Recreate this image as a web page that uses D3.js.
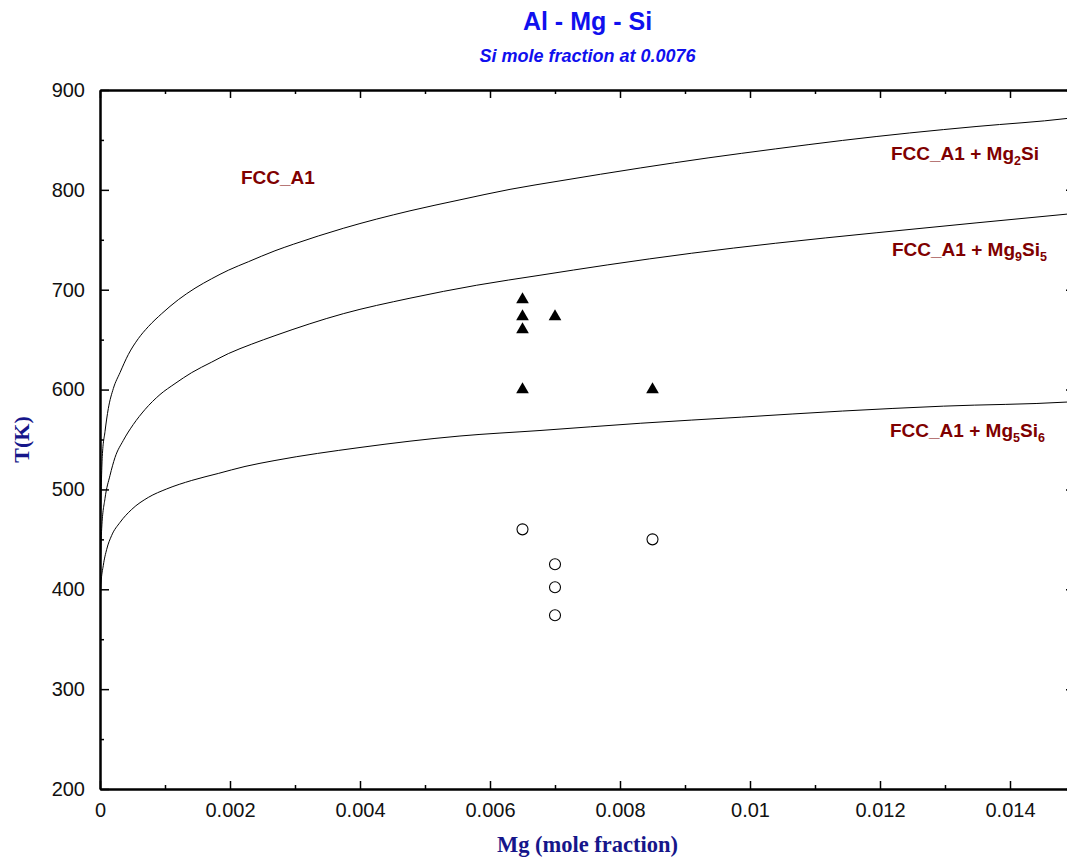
<!DOCTYPE html>
<html>
<head>
<meta charset="utf-8">
<script src="https://cdn.jsdelivr.net/npm/d3@7"></script>
<style>
	body { margin: 0; background: #fff; }
	svg { display: block; }
</style>
</head>
<body>
<div id="chart"></div>
<script>
// Phase boundaries: Mg mole fraction vs T(K)
const mg2SiX = [0.000008, 0.000035, 0.000077, 0.000128, 0.000205, 0.000308, 0.000435, 0.000589, 0.000743, 0.000949, 0.001205, 0.001462, 0.001718, 0.001974, 0.002282, 0.002692, 0.002974, 0.003743, 0.004769, 0.005538, 0.006308, 0.007077, 0.00832, 0.009355, 0.01039, 0.011423, 0.012457, 0.013492, 0.014877, 0.015];
const mg2SiT = [470, 533, 558, 581, 601, 617, 635, 651, 663, 676, 690, 701.5, 711, 719.5, 728, 739, 745.5, 761.5, 779, 790, 800.5, 809, 822, 832, 841, 849.5, 857, 863.5, 871.5, 872.5];

const mg9Si5X = [0.000006, 0.000026, 0.000077, 0.000154, 0.000231, 0.000358, 0.000512, 0.000692, 0.000923, 0.001154, 0.001411, 0.001718, 0.001974, 0.002334, 0.002692, 0.003743, 0.004769, 0.005795, 0.006769, 0.007803, 0.009097, 0.01039, 0.01194, 0.013492, 0.014877, 0.015];
const mg9Si5T = [420, 461, 491, 514, 532, 549, 565, 580, 595, 606, 617, 627.5, 636, 645.5, 654, 676, 691.5, 704.5, 714.5, 724.8, 736.5, 746.5, 757, 767, 775.7, 776.5];

const mg5Si6X = [0.000004, 0.000015, 0.000051, 0.000103, 0.00018, 0.000308, 0.000488, 0.000743, 0.001026, 0.001411, 0.00182, 0.002231, 0.002692, 0.004, 0.005538, 0.006769, 0.00832, 0.009872, 0.011423, 0.012975, 0.014877, 0.015];
const mg5Si6T = [385, 405, 424, 440, 454, 467, 480, 492, 500.5, 509, 516, 523, 529, 542, 553.5, 559, 566.3, 572.4, 578.5, 583.4, 587.5, 588];

// Experimental points
const precipX = [0.0065, 0.0065, 0.0065, 0.0065, 0.007, 0.0085];
const precipT = [690, 673, 660, 600, 673, 600];
const ssX = [0.0065, 0.007, 0.007, 0.007, 0.0085];
const ssT = [460, 425, 402, 374, 450];

// Axis ticks
const xMajor = [0, 0.002, 0.004, 0.006, 0.008, 0.01, 0.012, 0.014];
const xLabels = ["0", "0.002", "0.004", "0.006", "0.008", "0.01", "0.012", "0.014"];
const xMinor = [0.001, 0.003, 0.005, 0.007, 0.009, 0.011, 0.013];
const yMajor = [200, 300, 400, 500, 600, 700, 800, 900];
const yMinor = [250, 350, 450, 550, 650, 750, 850];

const width = 1067;
const height = 857;
const margin = { left: 100, top: 90, right: 1075, bottom: 789 };

const x = d3.scaleLinear().domain([0, 0.015]).range([margin.left, margin.right]);
const y = d3.scaleLinear().domain([200, 900]).range([margin.bottom, margin.top]);

const svg = d3
	.select("#chart")
	.append("svg")
	.attr("width", width)
	.attr("height", height)
	.style("font-family", "Liberation Sans, Arial, sans-serif");

svg
	.append("defs")
	.append("clipPath")
	.attr("id", "plot-clip")
	.append("rect")
	.attr("x", margin.left)
	.attr("y", margin.top)
	.attr("width", margin.right - margin.left)
	.attr("height", margin.bottom - margin.top);

// Titles
svg
	.append("text")
	.attr("x", (margin.left + margin.right) / 2)
	.attr("y", 30)
	.attr("text-anchor", "middle")
	.style("font-size", "25px")
	.style("font-weight", "bold")
	.style("fill", "#1010ee")
	.text("Al - Mg - Si");

svg
	.append("text")
	.attr("x", (margin.left + margin.right) / 2)
	.attr("y", 62)
	.attr("text-anchor", "middle")
	.style("font-size", "18px")
	.style("font-weight", "bold")
	.style("font-style", "italic")
	.style("fill", "#1010ee")
	.text("Si mole fraction at 0.0076");

// Curves
const curves = [
	{ xs: mg2SiX, ts: mg2SiT },
	{ xs: mg9Si5X, ts: mg9Si5T },
	{ xs: mg5Si6X, ts: mg5Si6T },
];

const line = d3
	.line()
	.curve(d3.curveMonotoneX)
	.x((d) => x(d[0]))
	.y((d) => y(d[1]));

svg
	.append("g")
	.attr("clip-path", "url(#plot-clip)")
	.selectAll("path")
	.data(curves)
	.enter()
	.append("path")
	.attr("d", (c) => line(c.xs.map((v, i) => [v, c.ts[i]])))
	.attr("fill", "none")
	.attr("stroke", "#000")
	.attr("stroke-width", 1);

// Markers
svg
	.append("g")
	.selectAll("path")
	.data(precipX.map((v, i) => [v, precipT[i]]))
	.enter()
	.append("path")
	.attr("d", d3.symbol(d3.symbolTriangle, 70))
	.attr("transform", (d) => `translate(${x(d[0])}, ${y(d[1])})`)
	.attr("fill", "#000");

svg
	.append("g")
	.selectAll("circle")
	.data(ssX.map((v, i) => [v, ssT[i]]))
	.enter()
	.append("circle")
	.attr("cx", (d) => x(d[0]))
	.attr("cy", (d) => y(d[1]))
	.attr("r", 5.5)
	.attr("fill", "#fff")
	.attr("stroke", "#000")
	.attr("stroke-width", 1.1);

// Axes (ticks point inward)
function styleAxis(g) {
	g.select(".domain").attr("stroke", "#000").attr("stroke-width", 2);
	g.selectAll(".tick line").attr("stroke", "#000").attr("stroke-width", 1.5);
	g.selectAll(".tick text")
		.style("font-family", "Liberation Sans, Arial, sans-serif")
		.style("font-size", "20px")
		.attr("fill", "#111");
}

// tick-only axes: drop the empty labels
function noLabels(g) {
	g.selectAll(".tick text").remove();
}

svg
	.append("g")
	.attr("transform", `translate(0, ${margin.bottom})`)
	.call(
		d3.axisBottom(x)
			.tickValues(xMajor)
			.tickFormat((d, i) => xLabels[i])
			.tickSizeInner(-8)
			.tickSizeOuter(0)
			.tickPadding(14)
	)
	.call(styleAxis);

svg
	.append("g")
	.attr("transform", `translate(0, ${margin.bottom})`)
	.call(d3.axisBottom(x).tickValues(xMinor).tickSizeInner(-4).tickSizeOuter(0))
	.call(styleAxis)
	.call(noLabels);

svg
	.append("g")
	.attr("transform", `translate(0, ${margin.top})`)
	.call(d3.axisTop(x).tickValues(xMajor).tickSizeInner(-8).tickSizeOuter(0))
	.call(styleAxis)
	.call(noLabels);

svg
	.append("g")
	.attr("transform", `translate(0, ${margin.top})`)
	.call(d3.axisTop(x).tickValues(xMinor).tickSizeInner(-4).tickSizeOuter(0))
	.call(styleAxis)
	.call(noLabels);

svg
	.append("g")
	.attr("transform", `translate(${margin.left}, 0)`)
	.call(
		d3.axisLeft(y)
			.tickValues(yMajor)
			.tickSizeInner(-9)
			.tickSizeOuter(0)
			.tickPadding(15)
	)
	.call(styleAxis);

svg
	.append("g")
	.attr("transform", `translate(${margin.left}, 0)`)
	.call(d3.axisLeft(y).tickValues(yMinor).tickSizeInner(-4).tickSizeOuter(0))
	.call(styleAxis)
	.call(noLabels);

svg
	.append("g")
	.attr("transform", `translate(${margin.right}, 0)`)
	.call(d3.axisRight(y).tickValues(yMajor).tickSizeInner(-9).tickSizeOuter(0))
	.call(styleAxis)
	.call(noLabels);

// Axis titles
svg
	.append("text")
	.attr("x", (margin.left + margin.right) / 2)
	.attr("y", 852)
	.attr("text-anchor", "middle")
	.style("font-family", "Liberation Serif, Times New Roman, serif")
	.style("font-size", "22.5px")
	.style("font-weight", "bold")
	.style("fill", "#16168a")
	.text("Mg (mole fraction)");

svg
	.append("text")
	.attr("transform", `translate(29, ${(margin.top + margin.bottom) / 2}) rotate(-90)`)
	.attr("text-anchor", "middle")
	.style("font-family", "Liberation Serif, Times New Roman, serif")
	.style("font-size", "22px")
	.style("font-weight", "bold")
	.style("fill", "#16168a")
	.text("T(K)");

// Phase region labels: [text, isSubscript]
const phaseLabels = [
	{ x: 241, y: 184, parts: [["FCC_A1", 0]] },
	{ x: 891, y: 160, parts: [["FCC_A1 + Mg", 0], ["2", 1], ["Si", 0]] },
	{ x: 892, y: 256, parts: [["FCC_A1 + Mg", 0], ["9", 1], ["Si", 0], ["5", 1]] },
	{ x: 890, y: 437, parts: [["FCC_A1 + Mg", 0], ["5", 1], ["Si", 0], ["6", 1]] },
];

phaseLabels.forEach((lab) => {
	const t = svg
		.append("text")
		.attr("x", lab.x)
		.attr("y", lab.y)
		.style("font-size", "19px")
		.style("font-weight", "bold")
		.style("fill", "#7f0000");
	let shift = 0;
	lab.parts.forEach((p) => {
		const want = p[1] ? 5 : 0;
		t.append("tspan")
			.attr("dy", want - shift)
			.style("font-size", p[1] ? "12.5px" : "19px")
			.text(p[0]);
		shift = want;
	});
});
</script>
</body>
</html>
